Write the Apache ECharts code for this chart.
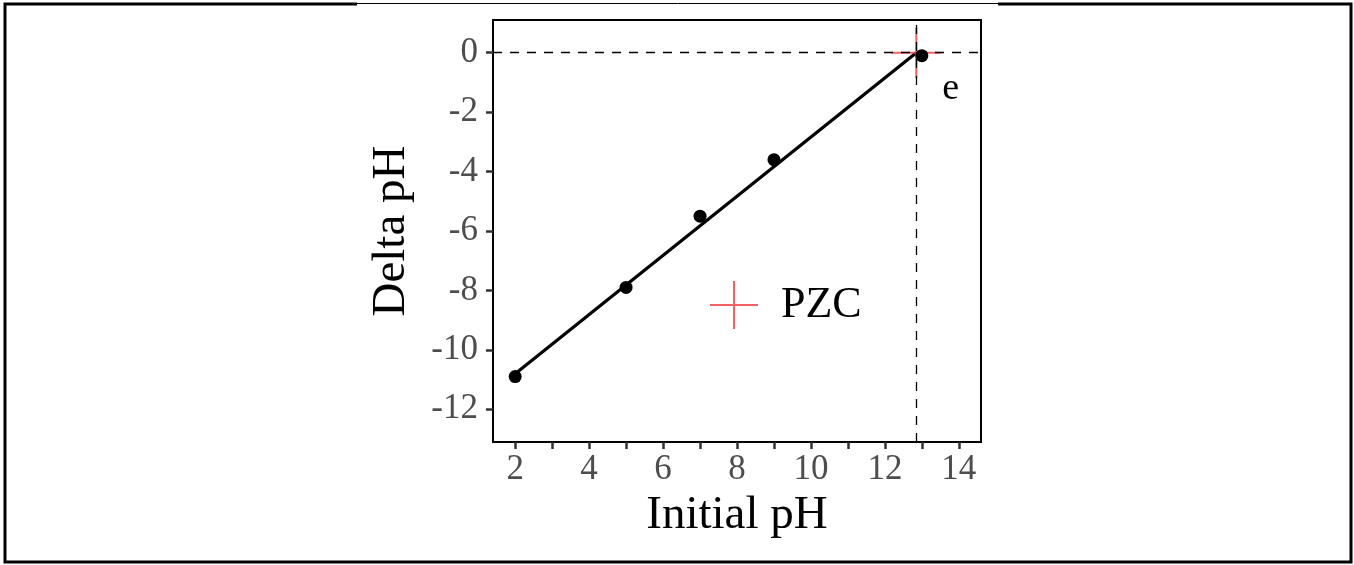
<!DOCTYPE html>
<html>
<head>
<meta charset="utf-8">
<script src="https://cdn.jsdelivr.net/npm/echarts@6/dist/echarts.min.js"></script>
<style>
html,body{margin:0;padding:0;background:#fff;}
#chart{width:1354px;height:565px;}
</style>
</head>
<body>
<div id="chart"></div>
<script>
// ---- data ----
var initialPH = [2, 5, 7, 9, 13];
var deltaPH = [-10.9, -7.9, -5.5, -3.6, -0.1];
var fitX = [2, 12.85];
var fitY = [-10.8, 0];
var pzcX = 12.85;
var pzcY = 0;
var pointLabels = ['', '', '', '', 'e'];
var xTicks = [2, 3, 4, 5, 6, 7, 8, 9, 10, 11, 12, 13, 14];
var xTickLabels = [2, 4, 6, 8, 10, 12, 14];
var yTicks = [-12, -10, -8, -6, -4, -2, 0];
var xTitle = 'Initial pH';
var yTitle = 'Delta pH';
var legendName = 'PZC';

var serif = "'Liberation Serif', 'Times New Roman', serif";
var plusPath = 'path://M-24,-1L24,-1L24,1L-24,1ZM-1,-24L1,-24L1,24L-1,24Z';
var pzcColor = 'rgba(240,70,70,0.85)';

var pts = initialPH.map(function (x, i) { return { value: [x, deltaPH[i]], label: { show: !!pointLabels[i], formatter: pointLabels[i] } }; });
var fitData = fitX.map(function (x, i) { return [x, fitY[i]]; });

var chart = echarts.init(document.getElementById('chart'), null, { renderer: 'canvas' });
chart.setOption({
  animation: false,
  backgroundColor: '#ffffff',
  grid: { left: 493, right: 373, top: 20, bottom: 123, show: true, borderColor: '#000', borderWidth: 2, backgroundColor: 'transparent' },
  legend: {
    data: [legendName],
    left: 705, top: 276,
    icon: plusPath,
    itemWidth: 48, itemHeight: 48,
    itemStyle: { color: pzcColor, opacity: 1 },
    textStyle: { fontFamily: serif, fontSize: 44, color: '#000', padding: [0, 0, 0, 18] },
    selectedMode: false
  },
  xAxis: {
    type: 'value', min: 1.4, max: 14.6,
    name: xTitle, nameLocation: 'middle', nameGap: 46,
    nameTextStyle: { fontFamily: serif, fontSize: 47, color: '#000' },
    axisLine: { show: false, onZero: false },
    axisTick: { show: true, customValues: xTicks, length: 7, lineStyle: { color: '#333', width: 2.5 } },
    axisLabel: { customValues: xTickLabels, fontFamily: serif, fontSize: 35, color: '#4d4d4d', margin: 10 },
    splitLine: { show: false }
  },
  yAxis: {
    type: 'value', min: -13.1, max: 1.1,
    name: yTitle, nameLocation: 'middle', nameGap: 78,
    nameTextStyle: { fontFamily: serif, fontSize: 47, color: '#000' },
    axisLine: { show: false, onZero: false },
    axisTick: { show: true, customValues: yTicks, length: 7, lineStyle: { color: '#333', width: 2.5 } },
    axisLabel: { customValues: yTicks, fontFamily: serif, fontSize: 35, color: '#4d4d4d', margin: 15 },
    splitLine: { show: false }
  },
  series: [
    {
      name: 'guides', type: 'line', data: [], silent: true,
      markLine: {
        silent: true, symbol: 'none', label: { show: false },
        lineStyle: { color: '#000', type: [9, 8], width: 1.3 },
        data: [{ yAxis: pzcY }, { xAxis: pzcX }]
      }
    },
    {
      name: 'fit', type: 'line', data: fitData, showSymbol: false, silent: true,
      lineStyle: { color: '#000', width: 3.2 }
    },
    {
      name: legendName, type: 'scatter', data: [[pzcX, pzcY]],
      symbol: plusPath, symbolSize: 50,
      itemStyle: { color: pzcColor, opacity: 1 }, z: 3
    },
    {
      name: 'points', type: 'scatter', data: pts, symbol: 'circle', symbolSize: 13,
      itemStyle: { color: '#000', opacity: 1 }, z: 4,
      label: { position: 'right', distance: 5, offset: [9, 33], fontFamily: serif, fontSize: 38, color: '#000' }
    }
  ],
  graphic: [
    { type: 'rect', shape: { x: 5, y: 4, width: 1346, height: 558 }, style: { fill: 'none', stroke: '#000', lineWidth: 3 }, z: 100, silent: true },
    { type: 'line', shape: { x1: 357, y1: 4, x2: 998, y2: 4 }, style: { stroke: '#fff', lineWidth: 4 }, z: 101, silent: true },
    { type: 'line', shape: { x1: 357, y1: 3.5, x2: 998, y2: 3.5 }, style: { stroke: '#000', lineWidth: 1 }, z: 102, silent: true }
  ]
});
</script>
</body>
</html>
